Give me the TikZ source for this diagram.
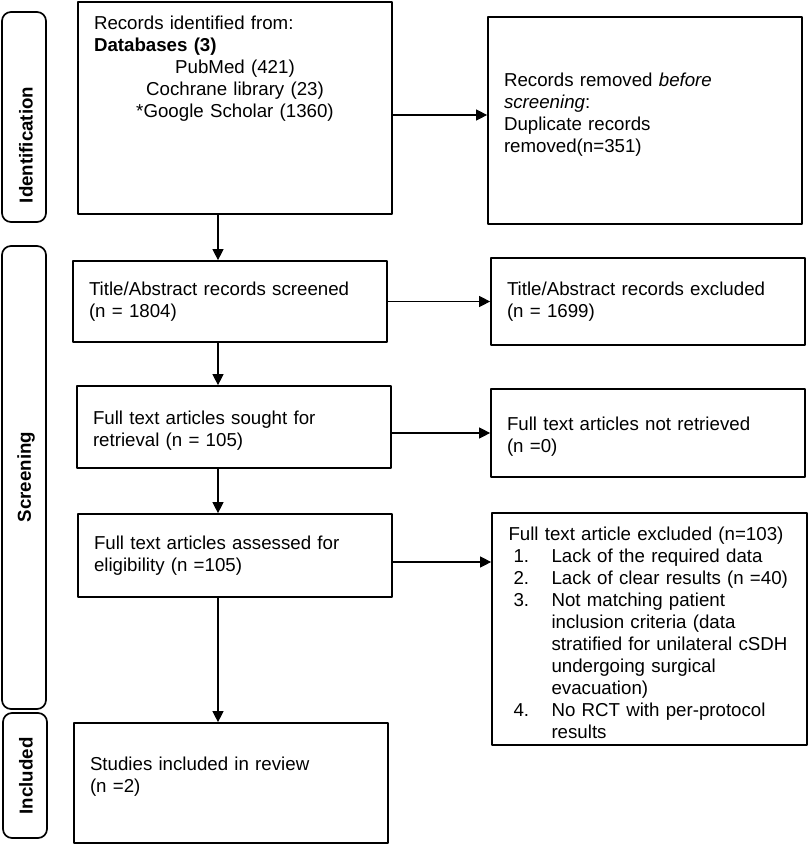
\documentclass[tikz,border=0pt]{standalone}
\usepackage{fontspec}
\setmainfont{Liberation Sans}
\usetikzlibrary{arrows.meta}

\begin{document}
\begin{tikzpicture}[x=1pt,y=-1pt,line join=round,>={Triangle[length=11pt,width=11pt]},font=\fontsize{18.7}{22}\selectfont]
	\tikzset{box/.style={draw,line width=1.7pt,inner xsep=16pt,inner ysep=0pt,text width=282pt,align=left,minimum width=314pt},
		phase/.style={draw,line width=1.7pt,rounded corners=9pt,minimum width=44pt},
		phase label/.style={rotate=90,font=\fontsize{18.7}{22}\selectfont\bfseries},
		arrow/.style={->,line width=1.1pt}}
	\newcommand{\lowerby}{\rule{0pt}{21.6pt}}
	\useasboundingbox (0,0) rectangle (809,846);
	\node[phase,minimum height=210pt] (idpill) at (24,117) {};
	\node[phase,minimum height=463pt] (scrpill) at (24,477.5) {};
	\node[phase,minimum height=125pt] (incpill) at (25,775.5) {};
	\node[phase label] (idtext) at (26,145) {Identification};
	\node[phase label] (scrtext) at (26,477) {Screening};
	\node[phase label] (inctext) at (26,776) {Included};
	\node[box,minimum height=212pt] (ident) at (235,108) {\begin{minipage}[t][184pt][t]{282pt}
			Records identified from:\\
			\textbf{Databases (3)}\par
			{\centering PubMed (421)\\ Cochrane library (23)\\ {*}Google Scholar (1360)\par}
		\end{minipage}};
	\node[box,minimum height=207pt] (dup) at (645,120.5) {Records removed \textit{before}\\\textit{screening}:\\Duplicate records\\removed(n=351)\\[-6pt]\mbox{}};
	\node[box,minimum height=81pt] (screen) at (230,301.5) {Title/Abstract records screened\\(n = 1804)};
	\node[box,minimum height=87pt] (scrx) at (648,301.5) {Title/Abstract records excluded\\(n = 1699)};
	\node[box,minimum height=82pt] (sought) at (234,427) {\lowerby Full text articles sought for\\retrieval (n = 105)};
	\node[box,minimum height=88pt] (notret) at (648,433) {\lowerby Full text articles not retrieved\\(n =0)};
	\node[box,minimum height=83pt] (elig) at (235,555.5) {Full text articles assessed for\\eligibility (n =105)};
	\node[box,minimum height=232pt,minimum width=315pt] (ftx) at (649.5,629) {\lowerby Full text article excluded (n=103)\\
		\hspace*{5pt}\makebox[38pt][l]{1.}Lack of the required data\\
		\hspace*{5pt}\makebox[38pt][l]{2.}Lack of clear results (n =40)\\
		\hspace*{5pt}\makebox[38pt][l]{3.}Not matching patient\\
		\hspace*{43pt}inclusion criteria (data\\
		\hspace*{43pt}stratified for unilateral cSDH\\
		\hspace*{43pt}undergoing surgical\\
		\hspace*{43pt}evacuation)\\
		\hspace*{5pt}\makebox[38pt][l]{4.}No RCT with per-protocol\\
		\hspace*{43pt}results};
	\node[box,minimum height=120pt] (incl) at (231,783) {Studies included in review\\(n =2)\\[-6pt]\mbox{}};
	\coordinate (spine) at (218,0);
	\draw[arrow] (ident.south -| spine) -- (screen.north -| spine);
	\draw[arrow] (screen.south -| spine) -- (sought.north -| spine);
	\draw[arrow] (sought.south -| spine) -- (elig.north -| spine);
	\draw[arrow] (elig.south -| spine) -- (incl.north -| spine);
	\draw[arrow] ([yshift=-7pt]ident.east) -- ([yshift=-7pt]ident.east -| dup.west);
	\draw[arrow] (screen.east) -- (scrx.west);
	\draw[arrow] (sought.east |- notret.west) -- (notret.west);
	\draw[arrow] ([yshift=-6.5pt]elig.east) -- ([yshift=-6.5pt]elig.east -| ftx.west);
\end{tikzpicture}
\end{document}
